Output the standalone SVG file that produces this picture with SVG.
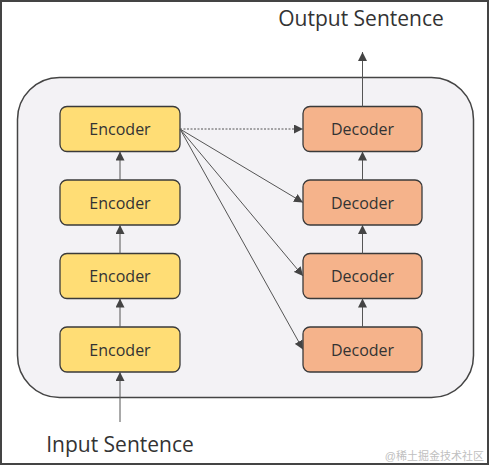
<svg xmlns="http://www.w3.org/2000/svg" width="489" height="465" viewBox="0 0 489 465">
<style>
.frame{fill:#fff;stroke:#444;stroke-width:2}
.cont{fill:#f3f2f5;stroke:#444;stroke-width:1.5}
.enc rect{fill:#ffdd75;stroke:#3a3a3a;stroke-width:1.3}
.dec rect{fill:#f5b38b;stroke:#3a3a3a;stroke-width:1.3}
.lbl{font-family:"Open Sans","Liberation Sans",sans-serif;font-size:16px;fill:#333;text-anchor:middle}
.big{font-family:"Open Sans","Liberation Sans",sans-serif;font-size:21px;fill:#333;text-anchor:middle}
.wm{font-family:"Liberation Sans","Noto Sans CJK SC",sans-serif;font-size:11px;fill:#c0c0c0;text-anchor:end}
.conn line{stroke:#555;stroke-width:1;fill:none}
</style>
<defs>
<marker id="ah" viewBox="0 0 10 10" refX="10" refY="5" markerWidth="9" markerHeight="9" markerUnits="userSpaceOnUse" orient="auto">
<path d="M0,0 L10,5 L0,10 z" fill="#444"/>
</marker>
</defs>
<rect class="frame" x="1" y="1" width="487" height="463"/>
<rect class="cont" x="17.5" y="77.5" width="456" height="320" rx="42" ry="42"/>
<g id="enc1" class="enc"><rect x="60" y="106.5" width="120" height="45" rx="7"/><text class="lbl" x="120" y="135">Encoder</text></g>
<g id="enc2" class="enc"><rect x="60" y="180" width="120" height="45" rx="7"/><text class="lbl" x="120" y="208.5">Encoder</text></g>
<g id="enc3" class="enc"><rect x="60" y="253.5" width="120" height="45" rx="7"/><text class="lbl" x="120" y="282">Encoder</text></g>
<g id="enc4" class="enc"><rect x="60" y="327" width="120" height="45" rx="7"/><text class="lbl" x="120" y="355.5">Encoder</text></g>
<g id="dec1" class="dec"><rect x="303" y="106.5" width="119" height="45" rx="7"/><text class="lbl" x="362.5" y="135">Decoder</text></g>
<g id="dec2" class="dec"><rect x="303" y="180" width="119" height="45" rx="7"/><text class="lbl" x="362.5" y="208.5">Decoder</text></g>
<g id="dec3" class="dec"><rect x="303" y="253.5" width="119" height="45" rx="7"/><text class="lbl" x="362.5" y="282">Decoder</text></g>
<g id="dec4" class="dec"><rect x="303" y="327" width="119" height="45" rx="7"/><text class="lbl" x="362.5" y="355.5">Decoder</text></g>
<g id="connectors" class="conn">
<line x1="120" y1="422" x2="120" y2="372" marker-end="url(#ah)"/>
<line x1="120" y1="327" x2="120" y2="298.5" marker-end="url(#ah)"/>
<line x1="120" y1="253.5" x2="120" y2="225" marker-end="url(#ah)"/>
<line x1="120" y1="180" x2="120" y2="151.5" marker-end="url(#ah)"/>
<line x1="362.5" y1="327" x2="362.5" y2="298.5" marker-end="url(#ah)"/>
<line x1="362.5" y1="253.5" x2="362.5" y2="225" marker-end="url(#ah)"/>
<line x1="362.5" y1="180" x2="362.5" y2="151.5" marker-end="url(#ah)"/>
<line x1="362.5" y1="106.5" x2="362.5" y2="52" marker-end="url(#ah)"/>
<line x1="180" y1="129" x2="303" y2="129" stroke-dasharray="2,1.5" marker-end="url(#ah)"/>
<line x1="180" y1="129" x2="303" y2="202.5" marker-end="url(#ah)"/>
<line x1="180" y1="129" x2="303" y2="276" marker-end="url(#ah)"/>
<line x1="180" y1="129" x2="303" y2="349.5" marker-end="url(#ah)"/>
</g>
<text class="big" x="361" y="26">Output Sentence</text>
<text class="big" x="120" y="452">Input Sentence</text>
<text class="wm" x="484" y="460">@稀土掘金技术社区</text>
</svg>
